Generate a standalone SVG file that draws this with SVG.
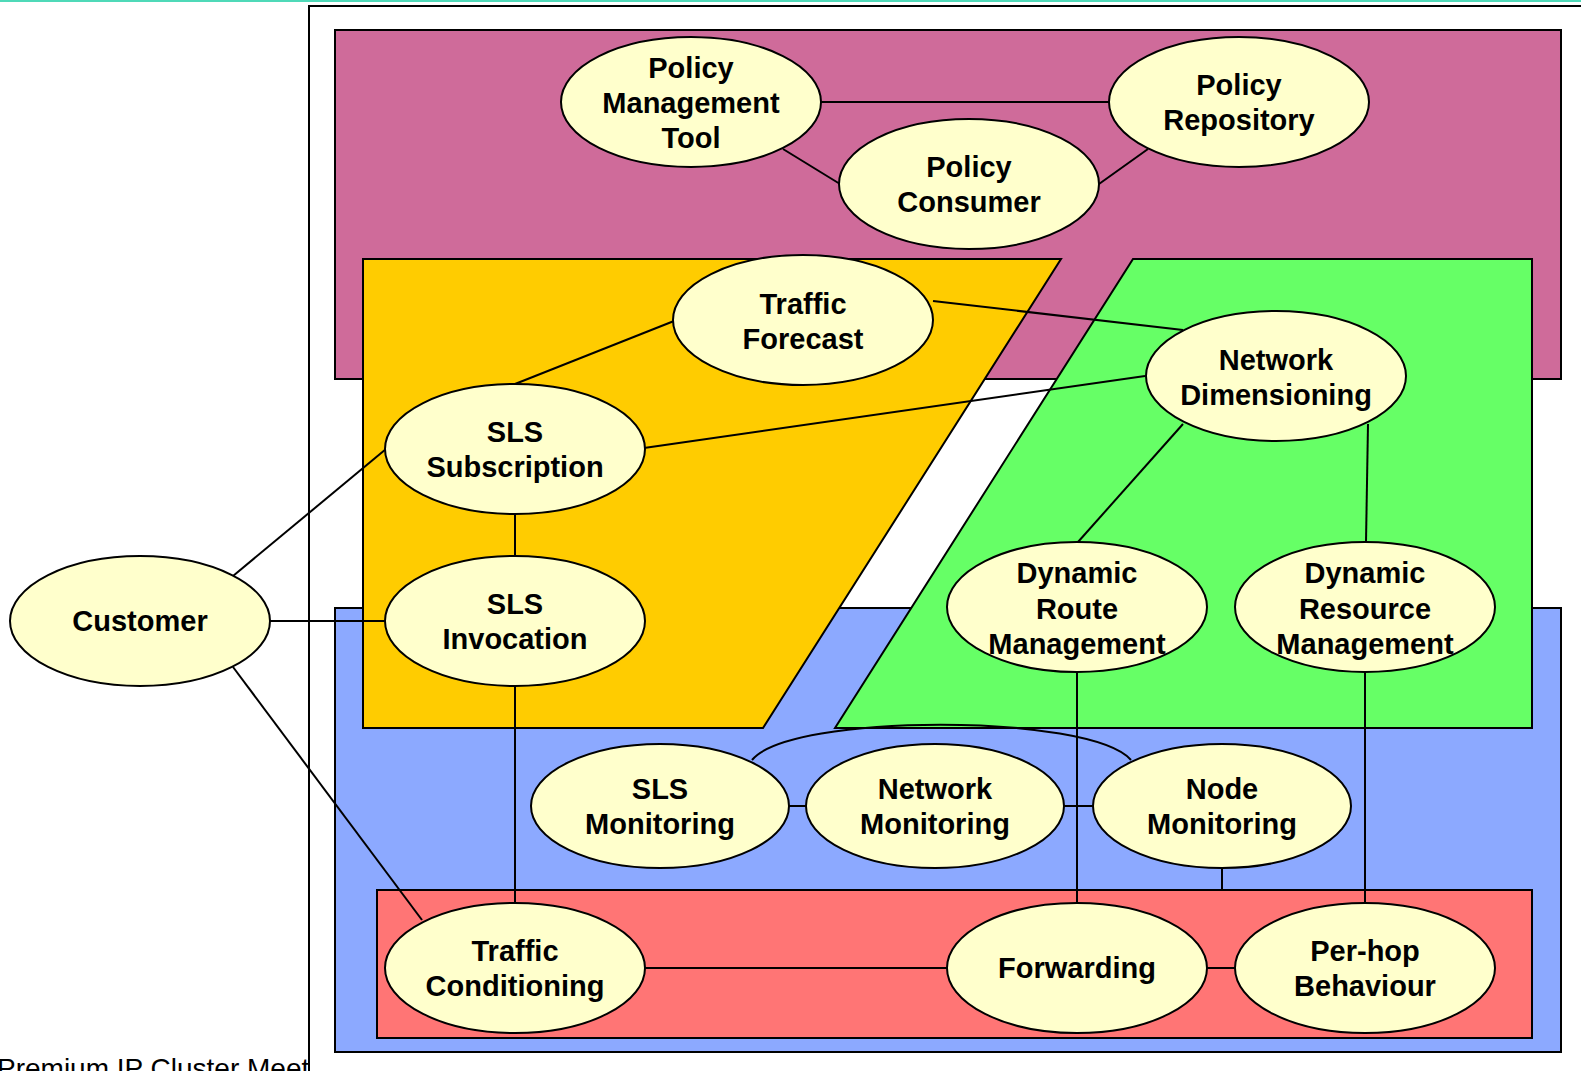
<svg xmlns="http://www.w3.org/2000/svg" width="1581" height="1071" viewBox="0 0 1581 1071">
<style>
.n ellipse{fill:#FFFFCC;stroke:#000;stroke-width:2}
.n text{font-family:"Liberation Sans",Arial,sans-serif;font-weight:bold;font-size:29px;text-anchor:middle;fill:#000}
.area{stroke:#000;stroke-width:2}
#connectors line,#connectors path{stroke:#000;stroke-width:2;fill:none}
</style>
<rect x="0" y="0" width="1581" height="1071" fill="#fff"/>
<line x1="0" y1="1" x2="1581" y2="1" stroke="#4FD9B8" stroke-width="2"/>
<text x="-3" y="1078" font-family="Liberation Sans,Arial,sans-serif" font-size="28" fill="#000">Premium IP Cluster Meet</text>
<rect x="309" y="6" width="1400" height="1200" fill="#fff" stroke="#000" stroke-width="2"/>
<g id="areas">
<rect class="area" x="335" y="30" width="1226" height="349" fill="#CF6B9A"/>
<rect class="area" x="335" y="608" width="1226" height="444" fill="#8CA9FF"/>
<rect class="area" x="377" y="890" width="1155" height="148" fill="#FF7575"/>
<polygon class="area" points="363,259 1061,259 763,728 363,728" fill="#FFCC00"/>
<polygon class="area" points="1133,259 1532,259 1532,728 835,728" fill="#66FF66"/>
</g>
<g id="connectors">
<line x1="821" y1="102" x2="1109" y2="102"/>
<line x1="783" y1="149" x2="840" y2="184"/>
<line x1="1099" y1="184" x2="1148" y2="149"/>
<line x1="674" y1="321" x2="515" y2="384"/>
<line x1="933" y1="301" x2="1183" y2="330"/>
<line x1="644" y1="448" x2="1145" y2="376"/>
<line x1="515" y1="513" x2="515" y2="557"/>
<line x1="233" y1="576" x2="386" y2="449"/>
<line x1="270" y1="621" x2="386" y2="621"/>
<line x1="233" y1="667" x2="422" y2="920"/>
<line x1="515" y1="686" x2="515" y2="903"/>
<line x1="1183" y1="424" x2="1078" y2="542"/>
<line x1="1368" y1="424" x2="1366" y2="542"/>
<line x1="1077" y1="672" x2="1077" y2="903"/>
<line x1="1365" y1="672" x2="1365" y2="903"/>
<line x1="789" y1="806" x2="806" y2="806"/>
<line x1="1064" y1="806" x2="1094" y2="806"/>
<path d="M752,760 C790,713 1090,713 1131,760"/>
<line x1="1222" y1="867" x2="1222" y2="890"/>
<line x1="644" y1="968" x2="948" y2="968"/>
<line x1="1207" y1="968" x2="1236" y2="968"/>
</g>
<g id="policy-management-tool" class="n"><ellipse cx="691" cy="102" rx="130" ry="65"/><text x="691" y="78">Policy</text><text x="691" y="113">Management</text><text x="691" y="148">Tool</text></g>
<g id="policy-repository" class="n"><ellipse cx="1239" cy="102" rx="130" ry="65"/><text x="1239" y="95">Policy</text><text x="1239" y="130">Repository</text></g>
<g id="policy-consumer" class="n"><ellipse cx="969" cy="184" rx="130" ry="65"/><text x="969" y="177">Policy</text><text x="969" y="212">Consumer</text></g>
<g id="traffic-forecast" class="n"><ellipse cx="803" cy="320" rx="130" ry="65"/><text x="803" y="314">Traffic</text><text x="803" y="349">Forecast</text></g>
<g id="network-dimensioning" class="n"><ellipse cx="1276" cy="376" rx="130" ry="65"/><text x="1276" y="370">Network</text><text x="1276" y="405">Dimensioning</text></g>
<g id="sls-subscription" class="n"><ellipse cx="515" cy="449" rx="130" ry="65"/><text x="515" y="442">SLS</text><text x="515" y="477">Subscription</text></g>
<g id="sls-invocation" class="n"><ellipse cx="515" cy="621" rx="130" ry="65"/><text x="515" y="614">SLS</text><text x="515" y="649">Invocation</text></g>
<g id="customer" class="n"><ellipse cx="140" cy="621" rx="130" ry="65"/><text x="140" y="631">Customer</text></g>
<g id="dynamic-route-management" class="n"><ellipse cx="1077" cy="607" rx="130" ry="65"/><text x="1077" y="583">Dynamic</text><text x="1077" y="619">Route</text><text x="1077" y="654">Management</text></g>
<g id="dynamic-resource-management" class="n"><ellipse cx="1365" cy="607" rx="130" ry="65"/><text x="1365" y="583">Dynamic</text><text x="1365" y="619">Resource</text><text x="1365" y="654">Management</text></g>
<g id="sls-monitoring" class="n"><ellipse cx="660" cy="806" rx="129" ry="62"/><text x="660" y="799">SLS</text><text x="660" y="834">Monitoring</text></g>
<g id="network-monitoring" class="n"><ellipse cx="935" cy="806" rx="129" ry="62"/><text x="935" y="799">Network</text><text x="935" y="834">Monitoring</text></g>
<g id="node-monitoring" class="n"><ellipse cx="1222" cy="806" rx="129" ry="62"/><text x="1222" y="799">Node</text><text x="1222" y="834">Monitoring</text></g>
<g id="traffic-conditioning" class="n"><ellipse cx="515" cy="968" rx="130" ry="65"/><text x="515" y="961">Traffic</text><text x="515" y="996">Conditioning</text></g>
<g id="forwarding" class="n"><ellipse cx="1077" cy="968" rx="130" ry="65"/><text x="1077" y="978">Forwarding</text></g>
<g id="per-hop-behaviour" class="n"><ellipse cx="1365" cy="968" rx="130" ry="65"/><text x="1365" y="961">Per-hop</text><text x="1365" y="996">Behaviour</text></g>
</svg>
